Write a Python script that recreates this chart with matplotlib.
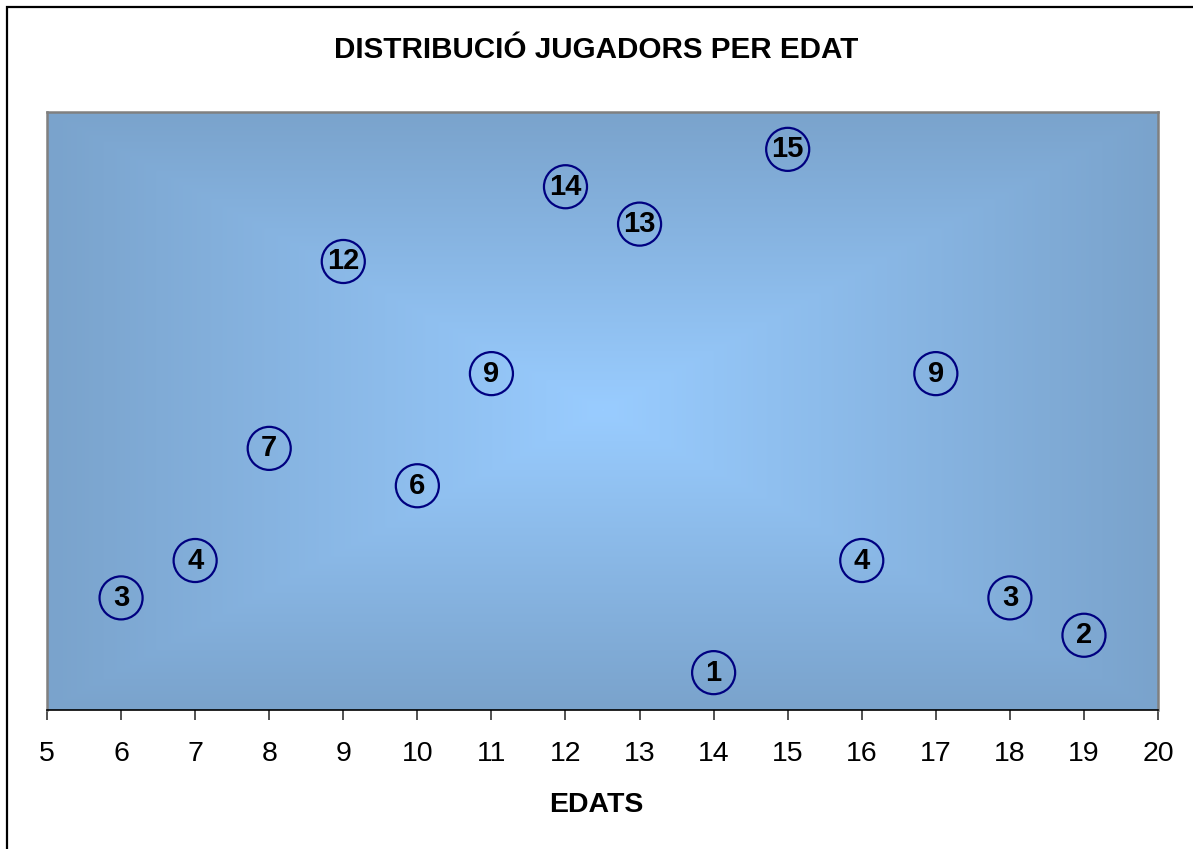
import numpy as np
import matplotlib
matplotlib.use("Agg")
import matplotlib.pyplot as plt
from matplotlib.colors import LinearSegmentedColormap
from matplotlib.patches import Rectangle

plt.rcParams["font.family"] = "Liberation Sans"

# data
edats = [6, 7, 8, 9, 10, 11, 12, 13, 14, 15, 16, 17, 18, 19]
jugadors = [3, 4, 7, 12, 6, 9, 14, 13, 1, 15, 4, 9, 3, 2]
x_ticks = list(range(5, 21))

fig = plt.figure(figsize=(11.93, 8.49), dpi=100)
ax = fig.add_axes([0.0394, 0.1637, 0.9313, 0.7044])

# background gradient (rectangular, from centre)
u = np.linspace(-1, 1, 400)
v = np.linspace(-1, 1, 300)
U, V = np.meshgrid(u, v)
d = np.maximum(np.abs(U), np.abs(V))
cmap = LinearSegmentedColormap.from_list("bg", ["#99CCFF", "#7AA3CC"])
ax.imshow(d, cmap=cmap, extent=[0, 1, 0, 1], transform=ax.transAxes,
          aspect="auto", zorder=0, interpolation="bilinear")

ax.scatter(edats, jugadors, s=31 ** 2, facecolors="none", edgecolors="#000080",
           linewidths=1.6, zorder=3)
for x, y in zip(edats, jugadors):
    ax.text(x, y, str(y), ha="center", va="center", fontsize=21,
            fontweight="bold", color="black", zorder=4)

ax.set_xlim(5, 20)
ax.set_ylim(0, 16)
ax.set_xticks(x_ticks)
ax.set_xticklabels([str(t) for t in x_ticks], fontsize=20.5)
ax.set_yticks([])
ax.tick_params(axis="x", direction="out", length=7, width=1.2, color="#333333", pad=15)

for s in ["top", "left", "right"]:
    ax.spines[s].set_color("#808080")
    ax.spines[s].set_linewidth(1.8)
ax.spines["bottom"].set_color("black")
ax.spines["bottom"].set_linewidth(1.2)

fig.text(0.5, 1 - 50 / 849, "DISTRIBUCIÓ JUGADORS PER EDAT", ha="center",
         va="center", fontsize=21.3, fontweight="bold")
fig.text(0.5, 1 - 805 / 849, "EDATS", ha="center", va="center",
         fontsize=20.5, fontweight="bold")

# outer chart frame
fig.patches.append(Rectangle((7 / 1193, -0.1), 2, 1.1 - 7 / 849,
                             transform=fig.transFigure, fill=False,
                             edgecolor="black", linewidth=1.6))

fig.savefig("out.png", dpi=100)
